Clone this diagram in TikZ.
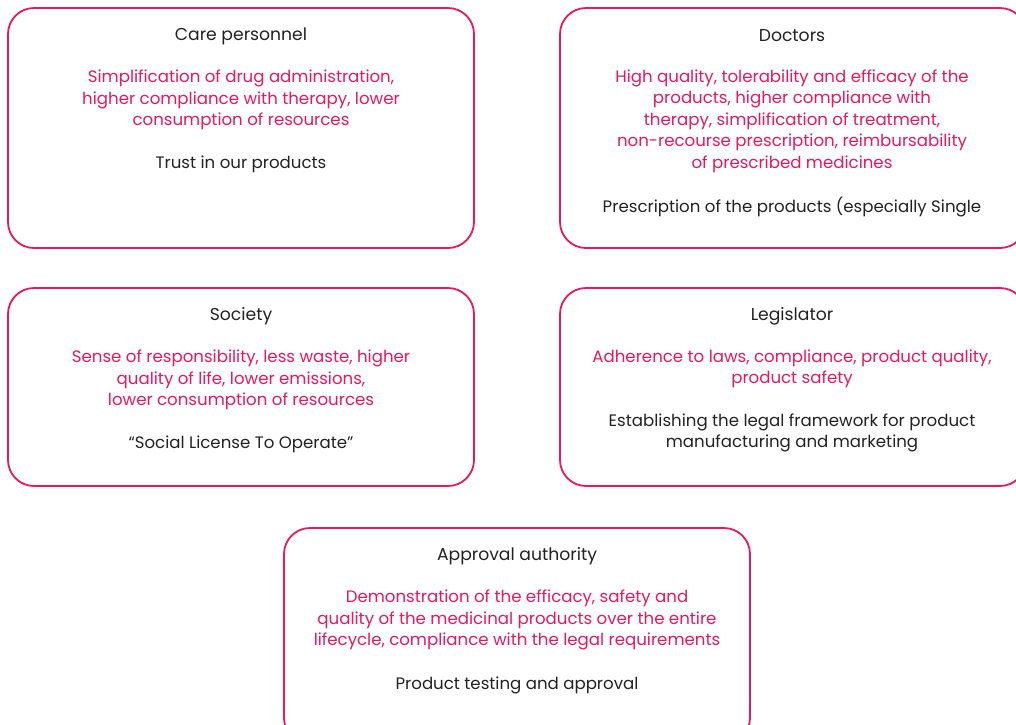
\documentclass[tikz,border=0pt]{standalone}
\usepackage{fontspec}
\setmainfont{Poppins}
\definecolor{stakepink}{HTML}{E5195E}
\definecolor{staketext}{HTML}{222222}
\tikzset{
  card/.style={draw=stakepink, line width=1.8pt, rounded corners=26pt, inner sep=0pt},
  head/.style={text=staketext, align=center, font=\fontsize{17.2}{21.5}\selectfont},
  need/.style={text=stakepink, align=center, font=\fontsize{16.6}{21.5}\selectfont},
  give/.style={text=staketext, align=center, font=\fontsize{16.6}{21.5}\selectfont},
}
\begin{document}
\begin{tikzpicture}[x=1pt, y=-1pt]
\useasboundingbox (0,0) rectangle (1016,724);
\clip (0,0) rectangle (1016,724);
%
\draw[card] (8,8) rectangle (474,248);
\draw[card] (560,8) rectangle (1026,248);
\draw[card] (8,288) rectangle (474,486);
\draw[card] (560,288) rectangle (1026,486);
\draw[card] (284,528) rectangle (750,744);

% care personnel
\node [head] (careT) at (241,36) {Care personnel};
\node [need] (careN) at (241,100) {Simplification of drug administration,\\higher compliance with therapy, lower\\consumption of resources};
\node [give] (careG) at (241,164) {Trust in our products};

% doctors
\node [head] (docT) at (792,36) {Doctors};
\node [need] (docN) at (792,121) {High quality, tolerability and efficacy of the\\products, higher compliance with\\therapy, simplification of treatment,\\non-recourse prescription, reimbursability\\of prescribed medicines};
\node [give] (docG) at (792,207) {Prescription of the products (especially Single};

% society
\node [head] (socT) at (241,316) {Society};
\node [need] (socN) at (241,380) {Sense of responsibility, less waste, higher\\quality of life, lower emissions,\\lower consumption of resources};
\node [give] (socG) at (241,444) {“Social License To Operate”};

% legislator
\node [head] (legT) at (792,316) {Legislator};
\node [need] (legN) at (792,369) {Adherence to laws, compliance, product quality,\\product safety};
\node [give] (legG) at (792,433) {Establishing the legal framework for product\\manufacturing and marketing};

% approval authority
\node [head] (appT) at (517,556) {Approval authority};
\node [need] (appN) at (517,620) {Demonstration of the efficacy, safety and\\quality of the medicinal products over the entire\\lifecycle, compliance with the legal requirements};
\node [give] (appG) at (517,685) {Product testing and approval};
\end{tikzpicture}
\end{document}
